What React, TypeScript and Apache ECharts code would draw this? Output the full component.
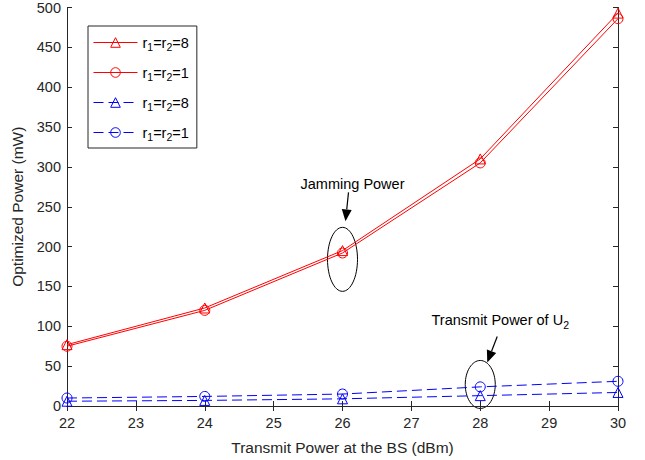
import React, { useEffect, useRef } from 'react';
import * as echarts from 'echarts';

const xValues = [22, 24, 26, 28, 30];
const jam8 = [77, 123, 195, 310, 493];
const jam1 = [75, 120, 192, 305, 486];
const u8 = [6, 7, 9, 13, 17];
const u1 = [10, 12, 15, 24, 31];
const legendNames = ['jam8', 'jam1', 'u8', 'u1'];
const legendLabels: Record<string, string> = {
  jam8: '{a|r}{s|1}{a|=r}{s|2}{a|=8}',
  jam1: '{a|r}{s|1}{a|=r}{s|2}{a|=1}',
  u8: '{a|r}{s|1}{a|=r}{s|2}{a|=8}',
  u1: '{a|r}{s|1}{a|=r}{s|2}{a|=1}',
};
const xTitle = 'Transmit Power at the BS (dBm)';
const yTitle = 'Optimized Power (mW)';

const FONT = "'Liberation Sans', Arial, sans-serif";
const TXT = '#262626';
const CLEAR = 'rgba(0,0,0,0)';

function arrow(x1: number, y1: number, x2: number, y2: number) {
  const dx = x2 - x1, dy = y2 - y1;
  const len = Math.sqrt(dx * dx + dy * dy);
  const ux = dx / len, uy = dy / len;
  const hl = 12, hw = 5;
  const bx = x2 - ux * hl, by = y2 - uy * hl;
  const px = -uy, py = ux;
  return [
    { type: 'line', shape: { x1, y1, x2: bx, y2: by }, style: { stroke: '#000', lineWidth: 1.2 }, silent: true },
    {
      type: 'polygon',
      shape: { points: [[x2, y2], [bx + px * hw, by + py * hw], [bx - px * hw, by - py * hw]] },
      style: { fill: '#000' },
      silent: true,
    },
  ];
}

export default function App() {
  const ref = useRef<HTMLDivElement>(null);
  useEffect(() => {
    document.body.style.margin = '0';
    const chart = echarts.init(ref.current!, null, { renderer: 'svg' });
    const pair = (arr: number[]) => xValues.map((x, i) => [x, arr[i]]);
    const axisLine = { show: true, lineStyle: { color: TXT, width: 1 } };
    const tick = { show: true, inside: true, length: 5, lineStyle: { color: TXT } };
    const mk = (name: string, arr: number[], symbol: string, col: string, dashed: boolean) => ({
      name, type: 'line', data: pair(arr), symbol, symbolSize: 10,
      color: col,
      lineStyle: { width: 1, color: col, type: dashed ? [10, 5] : 'solid' },
      itemStyle: { color: CLEAR, borderColor: col, borderWidth: 1 },
    });
    chart.setOption({
      animation: false,
      backgroundColor: '#fff',
      grid: { left: 67, right: 27, top: 4, bottom: 51, containLabel: false },
      legend: {
        data: legendNames,
        orient: 'vertical',
        left: 88,
        top: 26,
        itemWidth: 44,
        itemHeight: 12,
        itemGap: 11,
        padding: [7, 8, 6, 5],
        backgroundColor: '#fff',
        borderColor: TXT,
        borderWidth: 1,
        borderRadius: 0,
        itemStyle: { borderWidth: 1 },
        lineStyle: { width: 1 },
        formatter: (name: string) => legendLabels[name],
        textStyle: {
          rich: {
            a: { fontFamily: FONT, fontSize: 14.5, color: '#000', lineHeight: 14 },
            s: { fontFamily: FONT, fontSize: 10.5, color: '#000', padding: [8, 0, 0, 0], lineHeight: 14 },
          },
        },
      },
      xAxis: [
        {
          type: 'value', min: 22, max: 30, interval: 1, position: 'bottom',
          axisLine, axisTick: tick, splitLine: { show: false },
          axisLabel: { color: TXT, fontFamily: FONT, fontSize: 14.5, margin: 9 },
          name: xTitle, nameLocation: 'middle', nameGap: 33,
          nameTextStyle: { color: TXT, fontFamily: FONT, fontSize: 15.5 },
        },
        {
          type: 'value', min: 22, max: 30, interval: 1, position: 'top',
          axisLine, axisTick: tick, splitLine: { show: false }, axisLabel: { show: false },
        },
      ],
      yAxis: [
        {
          type: 'value', min: 0, max: 500, interval: 50, position: 'left',
          axisLine, axisTick: tick, splitLine: { show: false },
          axisLabel: { color: TXT, fontFamily: FONT, fontSize: 14.5, margin: 6 },
          name: yTitle, nameLocation: 'middle', nameGap: 38,
          nameTextStyle: { color: TXT, fontFamily: FONT, fontSize: 15.5 },
        },
        {
          type: 'value', min: 0, max: 500, interval: 50, position: 'right',
          axisLine, axisTick: tick, splitLine: { show: false }, axisLabel: { show: false },
        },
      ],
      series: [
        mk('jam8', jam8, 'triangle', '#ff0000', false),
        mk('jam1', jam1, 'circle', '#ff0000', false),
        mk('u8', u8, 'triangle', '#0000ff', true),
        mk('u1', u1, 'circle', '#0000ff', true),
      ],
    });

    const c1 = chart.convertToPixel({ gridIndex: 0 }, [26, 184]) as number[];
    const c2 = chart.convertToPixel({ gridIndex: 0 }, [28, 27]) as number[];
    const graphic: any[] = [
      { type: 'ellipse', shape: { cx: c1[0], cy: c1[1], rx: 15, ry: 32 }, style: { fill: 'none', stroke: '#000', lineWidth: 1 }, silent: true },
      { type: 'ellipse', shape: { cx: c2[0], cy: c2[1], rx: 15, ry: 24 }, style: { fill: 'none', stroke: '#000', lineWidth: 1 }, silent: true },
      {
        type: 'text', x: c1[0] + 10, y: c1[1] - 75,
        style: { text: 'Jamming Power', fontFamily: FONT, fontSize: 14.5, fill: '#000', align: 'center', verticalAlign: 'middle' },
        silent: true,
      },
      {
        type: 'text', x: c2[0] + 20, y: c2[1] - 64,
        style: {
          text: '{a|Transmit Power of U}{s|2}', align: 'center', verticalAlign: 'middle',
          rich: {
            a: { fontFamily: FONT, fontSize: 14.5, fill: '#000', color: '#000', lineHeight: 16 },
            s: { fontFamily: FONT, fontSize: 10.5, fill: '#000', color: '#000', padding: [9, 0, 0, 0], lineHeight: 16 },
          },
        },
        silent: true,
      },
      ...arrow(c1[0] + 6, c1[1] - 67, c1[0] + 3, c1[1] - 38),
      ...arrow(c2[0] + 17, c2[1] - 48, c2[0] + 7, c2[1] - 22),
    ];
    chart.setOption({ graphic });
    return () => chart.dispose();
  }, []);
  return <div ref={ref} style={{ width: 645, height: 460 }} />;
}
